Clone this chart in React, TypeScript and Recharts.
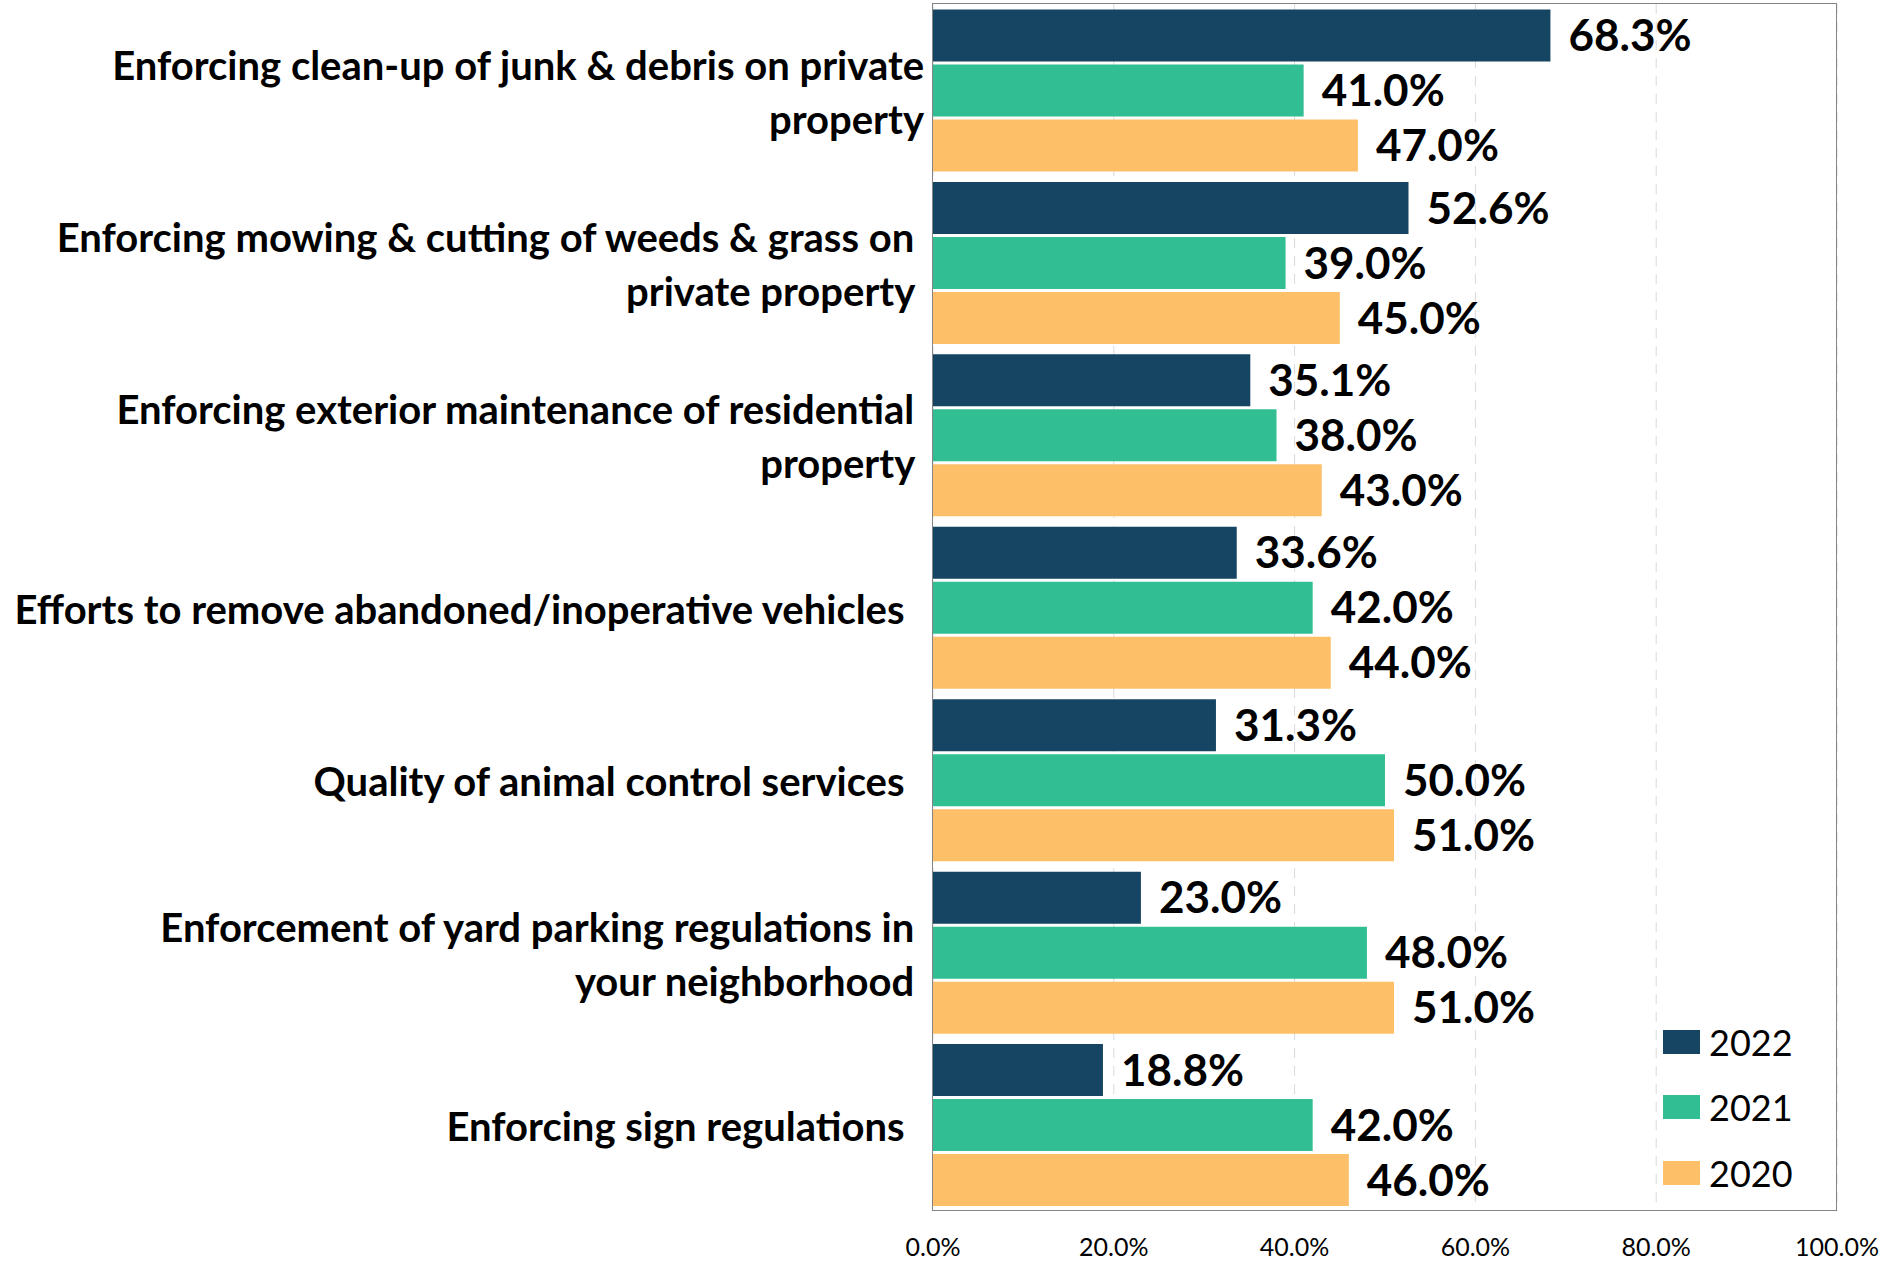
import React from 'react';
import { BarChart, Bar, XAxis, YAxis, CartesianGrid, LabelList } from 'recharts';

const categories = [
  'Enforcing clean-up of junk & debris on private\nproperty',
  'Enforcing mowing & cutting of weeds & grass on \nprivate property ',
  'Enforcing exterior maintenance of residential \nproperty ',
  'Efforts to remove abandoned/inoperative vehicles  ',
  'Quality of animal control services  ',
  'Enforcement of yard parking regulations in \nyour neighborhood ',
  'Enforcing sign regulations  ',
];
const values2022 = [68.3, 52.6, 35.1, 33.6, 31.3, 23.0, 18.8];
const values2021 = [41.0, 39.0, 38.0, 42.0, 50.0, 48.0, 42.0];
const values2020 = [47.0, 45.0, 43.0, 44.0, 51.0, 51.0, 46.0];
const xTicks = [0, 20, 40, 60, 80, 100];
const seriesNames = ['2022', '2021', '2020'];

const data = categories.map((c, i) => ({
  name: c,
  v2022: values2022[i],
  v2021: values2021[i],
  v2020: values2020[i],
}));

const COLORS = ['#164563', '#31BE92', '#FEBF69'];
const FONT = 'Lato, "Noto Sans", sans-serif';

const W = 1881;
const H = 1263;
const XH = 52;
const M = { top: 4, right: 44, bottom: 0, left: 0 };
const YW = 933;

const CatTick = (props: any) => {
  const { x, y, payload } = props;
  const lines: string[] = String(payload.value).split('\n');
  const lh = 54;
  const start = y - ((lines.length - 1) * lh) / 2 + 2;
  return (
    <text
      x={x}
      y={start}
      textAnchor="end"
      fontFamily={FONT}
      fontWeight={700}
      fontSize={40}
      fill="#000"
      xmlSpace="preserve"
      style={{ whiteSpace: 'pre' }}
    >
      {lines.map((l, i) => (
        <tspan key={i} x={x} y={start + i * lh} dy="0.36em">
          {l}
        </tspan>
      ))}
    </text>
  );
};

const fmt = (v: any) => Number(v).toFixed(1) + '%';

export default function App() {
  const plotL = M.left + YW;
  const plotT = M.top;
  const plotW = W - M.right - plotL;
  const plotH = H - M.bottom - XH - M.top;
  return (
    <div style={{ position: 'absolute', left: 0, top: 0, width: W, height: H, background: '#fff' }}>
      <BarChart
        width={W}
        height={H}
        data={data}
        layout="vertical"
        margin={M}
        barCategoryGap={5.5}
        barGap={3}
      >
        <CartesianGrid horizontal={false} stroke="#d9d9d9" strokeDasharray="10 8" />
        <XAxis
          type="number"
          domain={[0, 100]}
          ticks={xTicks}
          tickFormatter={fmt}
          tickLine={false}
          axisLine={false}
          tickSize={0}
          tickMargin={27}
          height={XH}
          tick={{ fontFamily: FONT, fontSize: 25, fill: '#000' }}
          interval={0}
        />
        <YAxis
          type="category"
          dataKey="name"
          width={YW}
          tickLine={false}
          axisLine={false}
          tickSize={0}
          tickMargin={9}
          tick={<CatTick />}
          interval={0}
        />
        {(['v2022', 'v2021', 'v2020'] as const).map((k, i) => (
          <Bar key={k} dataKey={k} name={seriesNames[i]} fill={COLORS[i]} isAnimationActive={false}>
            <LabelList
              dataKey={k}
              position="right"
              offset={18}
              formatter={fmt}
              style={{ fontFamily: FONT, fontWeight: 700, fontSize: 44, fill: '#000' }}
            />
          </Bar>
        ))}
      </BarChart>
      <div
        style={{
          position: 'absolute',
          left: plotL - 1,
          top: plotT - 1,
          width: plotW + 1,
          height: plotH + 1,
          border: '1.5px solid #858585',
          boxSizing: 'border-box',
          pointerEvents: 'none',
        }}
      />
      <div style={{ position: 'absolute', left: 1663, top: 1009, fontFamily: FONT }}>
        {seriesNames.map((n, i) => (
          <div key={n} style={{ display: 'flex', alignItems: 'center', height: 65.5 }}>
            <div style={{ width: 37, height: 24, background: COLORS[i] }} />
            <span style={{ marginLeft: 9, fontSize: 36, color: '#000', lineHeight: 1 }}>{n}</span>
          </div>
        ))}
      </div>
    </div>
  );
}
